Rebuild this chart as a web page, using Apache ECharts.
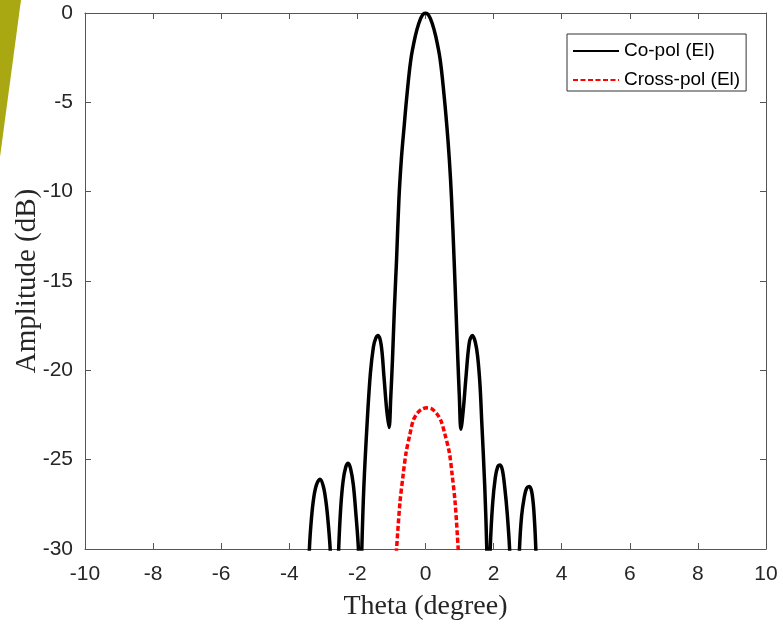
<!DOCTYPE html>
<html>
<head>
<meta charset="utf-8">
<script src="https://cdn.jsdelivr.net/npm/echarts@6/dist/echarts.min.js"></script>
<style>
  html, body { margin: 0; padding: 0; background: #fff; }
  #chart { width: 783px; height: 628px; }
</style>
</head>
<body>
<div id="chart"></div>
<script>
// Axis ranges and ticks
const thetaRange = [-10, 10];
const thetaStep = 2;
const ampRange = [-30, 0];
const ampStep = 5;

// Co-polar elevation cut: [theta (deg), amplitude (dB)], lobes split by nulls
const coPolSidelobeL3 = [[-3.46,-33],[-3.41,-30],[-3.35,-28.3],[-3.28,-27.1],[-3.20,-26.4],[-3.10,-26.1],[-3.00,-26.5],[-2.92,-27.4],[-2.86,-28.5],[-2.80,-30],[-2.75,-33]];
const coPolSidelobeL2 = [[-2.60,-33],[-2.55,-30],[-2.49,-27.7],[-2.42,-26.2],[-2.34,-25.4],[-2.27,-25.2],[-2.20,-25.5],[-2.12,-26.4],[-2.05,-27.9],[-1.97,-30],[-1.93,-33]];
const coPolMain = [[-1.90,-33],[-1.87,-30],[-1.81,-26.5],[-1.71,-22.8],[-1.62,-20.2],[-1.53,-18.7],[-1.46,-18.2],[-1.39,-18.05],[-1.30,-18.6],[-1.22,-20.35],[-1.14,-22.2],[-1.07,-23.2],
  [-1.02,-21.5],[-0.97,-19.4],[-0.915,-16.6],[-0.85,-13.8],[-0.78,-10.4],[-0.71,-8.2],[-0.63,-6.4],[-0.54,-4.5],[-0.43,-2.6],[-0.30,-1.3],[-0.20,-0.6],[-0.10,-0.15],[0,0],
  [0.10,-0.15],[0.20,-0.6],[0.30,-1.3],[0.43,-2.6],[0.54,-4.5],[0.63,-6.4],[0.70,-8.2],[0.765,-10.4],[0.84,-13.8],[0.895,-16.6],[0.95,-19.4],[0.995,-21.5],[1.04,-23.3],
  [1.11,-22.2],[1.19,-20.35],[1.29,-18.4],[1.38,-18.05],[1.46,-18.4],[1.53,-19.2],[1.60,-20.8],[1.65,-22.8],[1.74,-26.5],[1.80,-30],[1.83,-33]];
const coPolSidelobeR2 = [[1.86,-33],[1.90,-30],[1.97,-27.5],[2.05,-26.0],[2.12,-25.4],[2.19,-25.3],[2.26,-25.6],[2.33,-26.6],[2.40,-28.0],[2.47,-30],[2.52,-33]];
const coPolSidelobeR3 = [[2.71,-33],[2.76,-30],[2.82,-28.2],[2.90,-27.1],[2.97,-26.6],[3.05,-26.5],[3.12,-26.8],[3.18,-27.8],[3.24,-30],[3.28,-33]];

// Cross-polar elevation cut
const crossPol = [[-0.90,-31.5],[-0.85,-30],[-0.75,-27.4],[-0.66,-25.9],[-0.57,-24.6],[-0.46,-23.6],[-0.36,-22.8],[-0.22,-22.35],[-0.08,-22.15],[0.05,-22.1],[0.18,-22.15],[0.32,-22.4],[0.45,-22.8],[0.56,-23.5],[0.70,-24.6],[0.78,-25.8],[0.87,-27.4],[0.96,-30],[1.0,-31.5]];

const seriesNames = ['Co-pol (El)', 'Cross-pol (El)'];
const xName = 'Theta (degree)';
const yName = 'Amplitude (dB)';

// Join lobes with null gaps so the line breaks at the nulls
function joinSegments(segs) {
  const out = [];
  segs.forEach((s, i) => {
    if (i > 0) out.push([null, null]);
    s.forEach(p => out.push(p));
  });
  return out;
}
const coPol = joinSegments([coPolSidelobeL3, coPolSidelobeL2, coPolMain, coPolSidelobeR2, coPolSidelobeR3]);

const axisColor = '#555555';
const labelColor = '#262626';
const tickFont = 'Liberation Sans, Arial, sans-serif';
const nameFont = 'Liberation Serif, Times New Roman, serif';

const chart = echarts.init(document.getElementById('chart'), null, { renderer: 'canvas' });

const baseX = {
  type: 'value', min: thetaRange[0], max: thetaRange[1], interval: thetaStep,
  axisLine: { show: true, onZero: false, lineStyle: { color: axisColor, width: 1 } },
  axisTick: { show: true, inside: true, length: 6, lineStyle: { color: axisColor } },
  splitLine: { show: false }
};
const baseY = {
  type: 'value', min: ampRange[0], max: ampRange[1], interval: ampStep,
  axisLine: { show: true, onZero: false, lineStyle: { color: axisColor, width: 1 } },
  axisTick: { show: true, inside: true, length: 6, lineStyle: { color: axisColor } },
  splitLine: { show: false }
};

chart.setOption({
  animation: false,
  backgroundColor: '#ffffff',
  grid: { left: 85, right: 17, top: 13, bottom: 79, containLabel: false, outerBoundsMode: 'none' },
  graphic: [{
    type: 'polygon',
    shape: { points: [[0, 0], [21, 0], [0, 157]] },
    style: { fill: '#aaa812' },
    z: 0
  }],
  legend: {
    orient: 'vertical',
    left: 567, top: 34,
    padding: [7, 6, 1, 5],
    itemGap: 9,
    itemWidth: 46, itemHeight: 14,
    borderColor: '#333333', borderWidth: 1,
    backgroundColor: '#ffffff',
    itemStyle: { color: 'rgba(0,0,0,0)', borderWidth: 0, opacity: 0 },
    textStyle: { fontFamily: tickFont, fontSize: 19, lineHeight: 20, color: '#000' },
    data: seriesNames
  },
  xAxis: [
    Object.assign({}, baseX, {
      position: 'bottom',
      axisLabel: { show: true, fontFamily: tickFont, fontSize: 21, color: labelColor, margin: 15 },
      name: xName, nameLocation: 'middle', nameGap: 44, nameMoveOverlap: false,
      nameTextStyle: { fontFamily: nameFont, fontSize: 28, color: labelColor }
    }),
    Object.assign({}, baseX, { position: 'top', axisLabel: { show: false } })
  ],
  yAxis: [
    Object.assign({}, baseY, {
      position: 'left',
      axisLabel: { show: true, fontFamily: tickFont, fontSize: 21, color: labelColor, margin: 12 },
      name: yName, nameLocation: 'middle', nameGap: 43, nameRotate: 90, nameMoveOverlap: false,
      nameTextStyle: { fontFamily: nameFont, fontSize: 29, color: labelColor }
    }),
    Object.assign({}, baseY, { position: 'right', axisLabel: { show: false } })
  ],
  series: [
    {
      name: seriesNames[0], type: 'line', data: coPol,
      xAxisIndex: 0, yAxisIndex: 0,
      symbol: 'none', smooth: 0.35, connectNulls: false, clip: true,
      lineStyle: { color: '#000000', width: 3.5 },
      itemStyle: { color: '#000000' },
      z: 3
    },
    {
      name: seriesNames[1], type: 'line', data: crossPol,
      xAxisIndex: 0, yAxisIndex: 0,
      symbol: 'none', smooth: 0.3, clip: true,
      lineStyle: { color: '#ff0000', width: 3.5, type: [5, 2.5] },
      itemStyle: { color: '#ff0000' },
      z: 2
    }
  ]
});
</script>
</body>
</html>
